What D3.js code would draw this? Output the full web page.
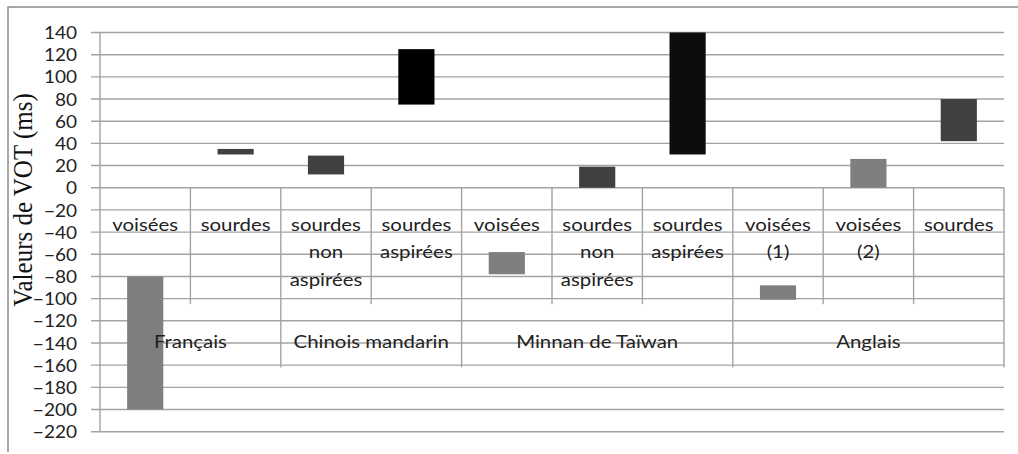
<!DOCTYPE html>
<html><head><meta charset="utf-8">
<script src="https://cdn.jsdelivr.net/npm/d3@7"></script>
<style>body{margin:0;background:#fff}svg{display:block}</style>
</head><body>
<script>
// ---- data ----
const categories = [
  ["voisées"], ["sourdes"],
  ["sourdes","non","aspirées"], ["sourdes","aspirées"],
  ["voisées"], ["sourdes","non","aspirées"], ["sourdes","aspirées"],
  ["voisées","(1)"], ["voisées","(2)"], ["sourdes"]
];
const groups = ["Français", "Chinois mandarin", "Minnan de Taïwan", "Anglais"];
const groupSizes = [2, 2, 3, 3];
const lowValues  = [-200, 30, 12, 75, -78, 0, 30, -101, 0, 42];
const highValues = [-80, 35, 29, 125, -58, 19, 140, -88, 26, 80];
const yTicks = [140,120,100,80,60,40,20,0,-20,-40,-60,-80,-100,-120,-140,-160,-180,-200,-220];
const yTitle = "Valeurs de VOT (ms)";

// ---- styles ----
const barColors = ["#7f7f7f","#404040","#404040","#000000","#7f7f7f","#404040","#0d0d0d","#7f7f7f","#7f7f7f","#404040"];
const W = 1018, H = 454;
const mLeft = 100, mRight = 1004, mTop = 32.5, mBottom = 431.7;
const gridColor = "#a3a3a3";
const font = "Lato, 'Open Sans', sans-serif";
const fs = 17;          // label font size
const sx = 1.2;         // horizontal stretch of labels
const tickSx = 1.12;

const svg = d3.select("body").append("svg").attr("width", W).attr("height", H);

// frame
svg.append("path").attr("d", `M8,452 L8,7 L1018,7`).attr("fill","none").attr("stroke","#8c8c8c").attr("stroke-width",1.5);

const idx = d3.range(categories.length);
const x = d3.scaleBand().domain(idx).range([mLeft, mRight]).paddingInner(0.6).paddingOuter(0.3);
const y = d3.scaleLinear().domain([-220, 140]).range([mBottom, mTop]);

// tick labels
const yAxis = d3.axisLeft(y).tickValues(yTicks).tickSize(0).tickPadding(0);
const gy = svg.append("g").attr("transform", `translate(${mLeft},0)`).call(yAxis);
gy.select(".domain").remove();
gy.selectAll(".tick line").remove();
gy.selectAll(".tick text").attr("x", -23 / tickSx).attr("dy", "0.36em")
  .attr("transform", `scale(${tickSx},1)`)
  .attr("font-family", font).attr("font-size", fs).attr("fill", "#222").attr("text-anchor","end");

// gridlines
svg.append("g").selectAll("line").data(yTicks).join("line")
  .attr("x1", mLeft - 9).attr("x2", mRight)
  .attr("y1", d => y(d)).attr("y2", d => y(d))
  .attr("stroke", gridColor).attr("stroke-width", 1.4);

// y axis line
svg.append("line").attr("x1", mLeft).attr("x2", mLeft).attr("y1", mTop).attr("y2", mBottom)
  .attr("stroke", gridColor).attr("stroke-width", 1.4);

// bars
svg.append("g").selectAll("rect").data(idx).join("rect")
  .attr("x", i => x(i)).attr("width", x.bandwidth())
  .attr("y", i => y(highValues[i])).attr("height", i => y(lowValues[i]) - y(highValues[i]))
  .attr("fill", i => barColors[i]);

// category table
const step = x.step();
const catLeft = i => mLeft + i * step;
const y0 = y(0);
const subBottom = y(-105), groupBottom = y(-162);
let groupStarts = []; let acc = 0;
groupSizes.forEach(s => { groupStarts.push(acc); acc += s; });
const groupBoundaries = new Set(groupStarts.concat([acc]));
const tbl = svg.append("g");
d3.range(1, categories.length + 1).forEach(i => {
  const isGroup = groupBoundaries.has(i);
  tbl.append("line").attr("x1", catLeft(i)).attr("x2", catLeft(i))
    .attr("y1", y0).attr("y2", isGroup ? groupBottom : subBottom)
    .attr("stroke", gridColor).attr("stroke-width", 1.4);
});

// sub labels
const lineH = 27.5;
idx.forEach(i => {
  categories[i].forEach((ln, k) => {
    svg.append("text")
      .attr("transform", `translate(${catLeft(i) + step / 2},${224.5 + k * lineH}) scale(${sx},1)`)
      .attr("dy", "0.36em").attr("text-anchor", "middle")
      .attr("font-family", font).attr("font-size", fs).attr("fill", "#222").text(ln);
  });
});

// group labels
groups.forEach((g, j) => {
  const cx = catLeft(groupStarts[j]) + groupSizes[j] * step / 2;
  svg.append("text").attr("transform", `translate(${cx},341.5) scale(${sx},1)`).attr("dy", "0.36em")
    .attr("text-anchor", "middle").attr("font-family", font).attr("font-size", fs).attr("fill", "#222").text(g);
});

// y title
svg.append("text").attr("transform", `translate(32,200) scale(1.1,1) rotate(-90)`)
  .attr("text-anchor", "middle").attr("font-family", "'Liberation Serif', 'Times New Roman', serif")
  .attr("font-size", 25).attr("fill", "#111").text(yTitle);
</script>
</body></html>
